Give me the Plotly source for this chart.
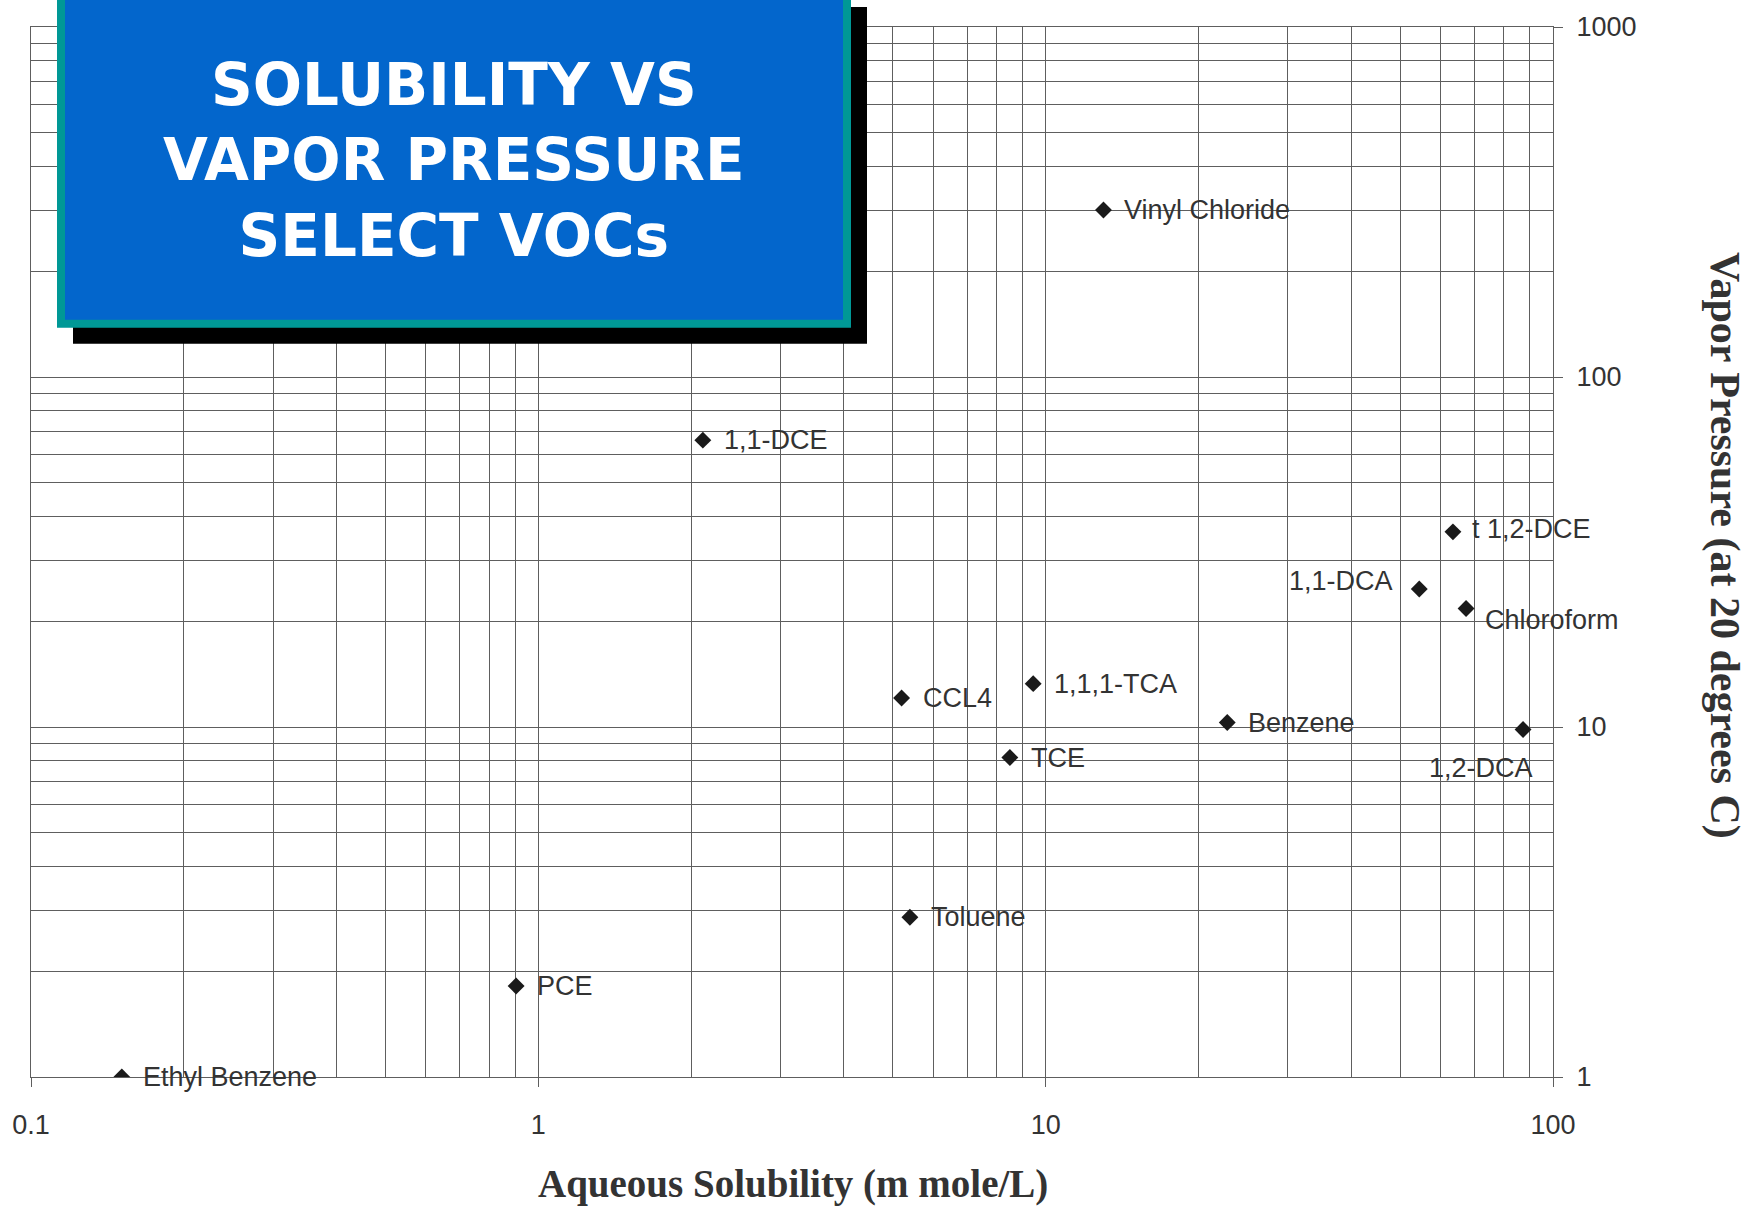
import math
import plotly.graph_objects as go

# ---- data ----
compounds = ["Vinyl Chloride", "1,1-DCE", "t 1,2-DCE", "1,1-DCA", "Chloroform",
             "CCL4", "1,1,1-TCA", "Benzene", "1,2-DCA", "TCE", "Toluene", "PCE",
             "Ethyl Benzene"]
solubility = [13.0, 2.11, 63.5, 54.5, 67.4, 5.2, 9.45, 22.8, 87.3, 8.5, 5.4, 0.904, 0.151]
vapor_pressure = [300, 66, 36.1, 24.8, 21.8, 12.1, 13.3, 10.3, 9.84, 8.18, 2.86, 1.82, 1.0]
x_tick_vals = [0.1, 1, 10, 100]
x_tick_text = ["0.1", "1", "10", "100"]
y_tick_vals = [1, 10, 100, 1000]
y_tick_text = ["1", "10", "100", "1000"]

title_lines = ["SOLUBILITY VS", "VAPOR PRESSURE", "SELECT VOCs"]
x_title = "Aqueous Solubility (m mole/L)"
y_title = "Vapor Pressure (at 20 degrees C)"

# ---- layout constants (pixels) ----
W, H = 1756, 1211
L, R, T, B = 31, 203, 23, 134
PW, PH = W - L - R, H - T - B

def px_x(p):
    return (p - L) / PW

def px_y(p):
    return (H - B - p) / PH

# label placement: (xanchor, xshift, yshift)
label_pos = {
    "1,1-DCA": ("right", -24, 8),
    "Chloroform": ("left", 17, -11),
    "1,2-DCA": ("center", -42, -39),
    "t 1,2-DCE": ("left", 17, 3),
}
default_pos = ("left", 19, 0)

GRID = "#5e5e5e"
TEXT = "#333333"

fig = go.Figure()
fig.add_trace(go.Scatter(
    x=solubility, y=vapor_pressure, mode="markers",
    marker=dict(symbol="diamond", size=13, color="#1a1a1a"),
    hoverinfo="skip", showlegend=False,
))

annotations = []
for name, xv, yv in zip(compounds, solubility, vapor_pressure):
    xa, xs, ys = label_pos.get(name, default_pos)
    annotations.append(dict(
        x=math.log10(xv), y=math.log10(yv), xref="x", yref="y",
        text=name, showarrow=False, xanchor=xa, yanchor="middle",
        xshift=xs, yshift=ys,
        font=dict(family="Liberation Sans, Arial", size=27, color=TEXT),
    ))

# axis titles
annotations.append(dict(
    x=px_x(793), y=px_y(1184), xref="paper", yref="paper", text=f"<b>{x_title}</b>",
    showarrow=False, xanchor="center", yanchor="middle",
    font=dict(family="Liberation Serif, Times New Roman", size=39, color=TEXT),
))
annotations.append(dict(
    x=px_x(1725), y=px_y(543), xref="paper", yref="paper", text=f"<b>{y_title}</b>",
    showarrow=False, xanchor="center", yanchor="middle", textangle=90,
    font=dict(family="Liberation Serif, Times New Roman", size=42, color=TEXT),
))
# title box text
annotations.append(dict(
    x=px_x(454), y=px_y(157), xref="paper", yref="paper",
    text="<br>".join(f"<b>{t}</b>" for t in title_lines),
    showarrow=False, xanchor="center", yanchor="middle", align="center",
    font=dict(family="DejaVu Sans, Verdana", size=58, color="white"),
))

shapes = [
    dict(type="rect", xref="paper", yref="paper",
         x0=px_x(73), x1=px_x(867), y0=px_y(341), y1=px_y(3),
         fillcolor="black", line=dict(width=0), layer="above"),
    dict(type="rect", xref="paper", yref="paper",
         x0=px_x(61), x1=px_x(847), y0=px_y(321), y1=px_y(-10),
         fillcolor="#0366CC", line=dict(color="#009896", width=8), layer="above"),
]

axis_common = dict(
    type="log", showgrid=True, gridcolor=GRID, gridwidth=1.3,
    showline=True, linecolor=GRID, linewidth=1.3, mirror=True,
    zeroline=False, ticks="outside", ticklen=9, tickcolor=GRID, tickwidth=1.3,
    tickfont=dict(family="Liberation Sans, Arial", size=27, color=TEXT),
    minor=dict(dtick="D1", showgrid=True, gridcolor=GRID, gridwidth=1.1, ticks=""),
)

fig.update_layout(
    width=W, height=H,
    margin=dict(l=L, r=R, t=T, b=B, pad=0),
    paper_bgcolor="white", plot_bgcolor="white",
    xaxis=dict(range=[-1, 2], tickvals=x_tick_vals, ticktext=x_tick_text,
               ticklabelstandoff=14, **axis_common),
    yaxis=dict(range=[0, 3], side="right", tickvals=y_tick_vals, ticktext=y_tick_text,
               ticklabelstandoff=8, **axis_common),
    annotations=annotations, shapes=shapes,
)

fig.write_html("out.html", config={"displayModeBar": False},
               post_script="document.body.style.margin='0';")
